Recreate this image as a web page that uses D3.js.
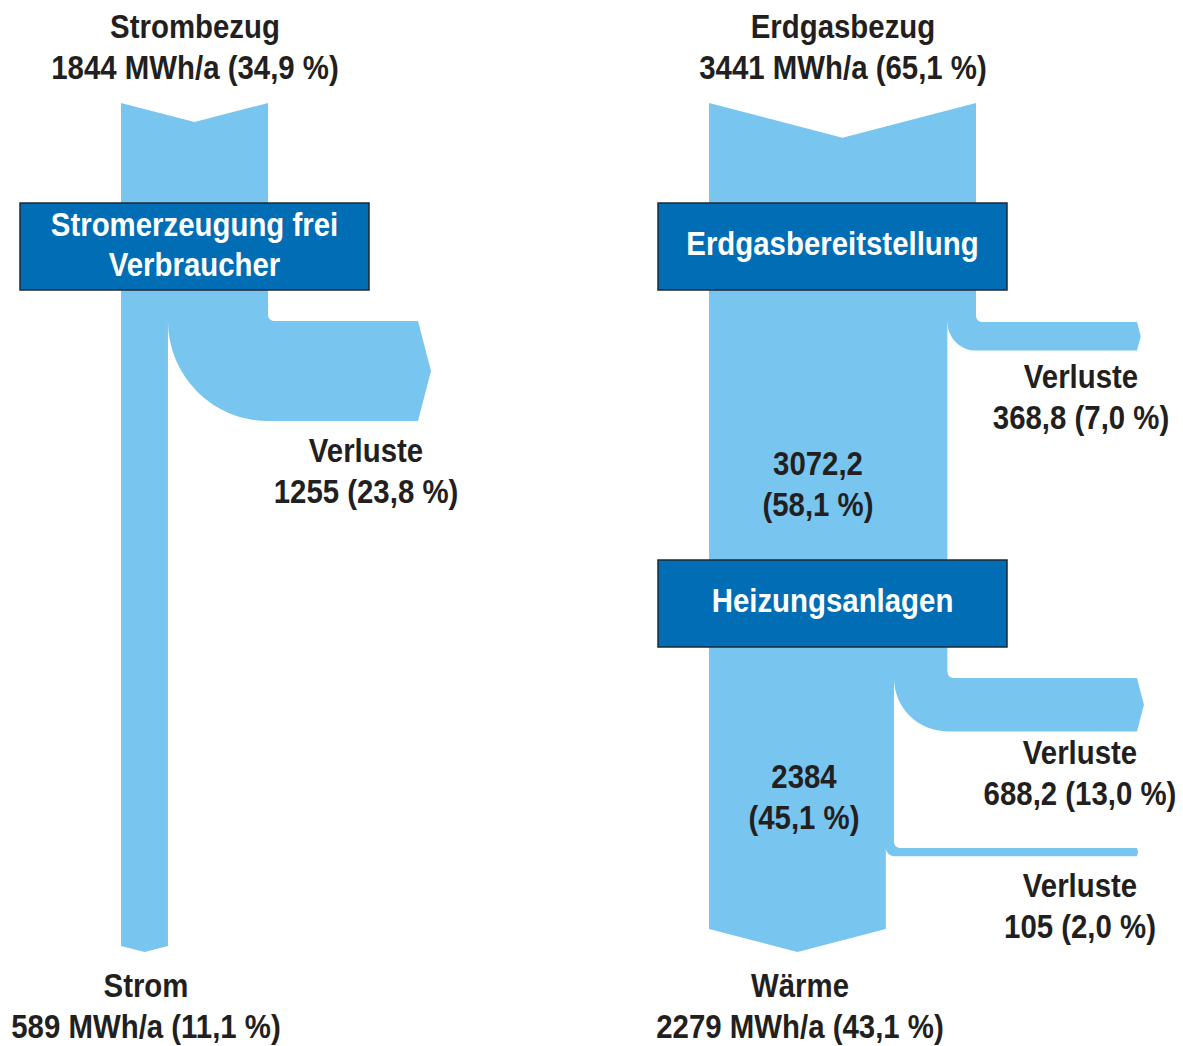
<!DOCTYPE html>
<html>
<head>
<meta charset="utf-8">
<script src="https://cdn.jsdelivr.net/npm/d3@7"></script>
<style>
  body { margin: 0; background: #fff; }
  text {
    font-family: "Liberation Sans", Arial, sans-serif;
    font-weight: bold;
    font-size: 34px;
    fill: #231f20;
    text-anchor: middle;
  }
  .node text { fill: #fff; }
</style>
</head>
<body>
<svg width="1183" height="1046"></svg>
<script>
// values (MWh/a and share of total input)
const inputLabels = ['Strombezug', 'Erdgasbezug'];
const inputValues = [1844, 3441];
const inputShares = [34.9, 65.1];

const outputLabels = ['Strom', 'Wärme'];
const outputValues = [589, 2279];
const outputShares = [11.1, 43.1];

const nodeNames = [['Stromerzeugung frei', 'Verbraucher'], ['Erdgasbereitstellung'], ['Heizungsanlagen']];

const stromLossValues = [1255];
const stromLossShares = [23.8];

const gasStepValues = [3072.2, 2384];
const gasStepShares = [58.1, 45.1];
const gasLossValues = [368.8, 688.2, 105];
const gasLossShares = [7.0, 13.0, 2.0];

const svg = d3.select('svg');

const de = d3.formatLocale({ decimal: ',', thousands: '.', grouping: [3], currency: ['', ' €'] });
const fmtVal = de.format('~f');
const fmtPct = de.format('.1f');

const band = '#78c5f0';
const topY = 103;
const endY = 952;
const chev = 0.13;   // depth of notch / arrow relative to band width
const lineH = 41;
const narrow = 0.865; // condensed look of the original typeface

// multi-line, horizontally condensed label
function addLines(parent, x, y, lines, dy = lineH) {
  const t = parent.append('text')
    .attr('transform', `translate(${x},${y}) scale(${narrow},1)`);
  lines.forEach((line, j) => {
    t.append('tspan').attr('x', 0).attr('y', j * dy).text(line);
  });
  return t;
}

// layout of the two flows
const systems = [
  {
    i: 0, x0: 121, bandW: 147,
    trunk: [inputValues[0], outputValues[0]],
    steps: [], stepShares: [], stepPos: [],
    losses: stromLossValues, lossShares: stromLossShares,
    lossY: [321], arrowX: 418,
    lossLabel: [[366, 462]],
    nodes: [{ name: nodeNames[0], x: 20, y: 203 }],
    topX: 195, outX: 146
  },
  {
    i: 1, x0: 709, bandW: 267,
    trunk: [inputValues[1], ...gasStepValues, outputValues[1]],
    steps: gasStepValues, stepShares: gasStepShares, stepPos: [[818, 475], [804, 788]],
    losses: gasLossValues, lossShares: gasLossShares,
    lossY: [322, 678, 848], arrowX: 1137,
    lossLabel: [[1081, 388], [1080, 764], [1080, 897]],
    nodes: [{ name: nodeNames[1], x: 658, y: 203 }, { name: nodeNames[2], x: 658, y: 560 }],
    topX: 843, outX: 800
  }
];

const flows = svg.append('g').attr('class', 'flows');
const labels = svg.append('g').attr('class', 'labels');
const boxes = svg.append('g').attr('class', 'node');

systems.forEach(s => {
  const w = d3.scaleLinear().domain([0, inputValues[s.i]]).range([0, s.bandW]);
  const n = s.trunk.length;

  // trunk segments between the branch points
  s.trunk.forEach((v, k) => {
    const bw = w(v);
    const x = s.x0;
    const y0 = k === 0 ? topY : s.lossY[k - 1] - 1;
    const y1 = k === n - 1 ? endY : s.lossY[k];
    const p = d3.path();
    if (k === 0) {
      p.moveTo(x, y0);
      p.lineTo(x + bw / 2, y0 + chev * bw);
      p.lineTo(x + bw, y0);
    } else {
      p.moveTo(x, y0);
      p.lineTo(x + bw, y0);
    }
    if (k === n - 1) {
      p.lineTo(x + bw, y1 - chev * bw);
      p.lineTo(x + bw / 2, y1);
      p.lineTo(x, y1 - chev * bw);
    } else {
      p.lineTo(x + bw, y1);
      p.lineTo(x, y1);
    }
    p.closePath();
    flows.append('path').attr('d', p.toString()).attr('fill', band);
  });

  // loss branches bending to the right
  s.losses.forEach((v, k) => {
    const lw = w(v);
    const xl = s.x0 + w(s.trunk[k + 1]);
    const xr = xl + lw;
    const yT = s.lossY[k];
    const r = 6;
    const xe = s.arrowX;
    const p = d3.path();
    p.moveTo(xl, yT - r);
    p.lineTo(xr, yT - r);
    p.arcTo(xr, yT, xr + r, yT, r);
    p.lineTo(xe, yT);
    p.lineTo(xe + chev * lw, yT + lw / 2);
    p.lineTo(xe, yT + lw);
    p.lineTo(xr, yT + lw);
    p.arcTo(xl, yT + lw, xl, yT, lw);
    p.closePath();
    flows.append('path').attr('d', p.toString()).attr('fill', band);

    const [lx, ly] = s.lossLabel[k];
    addLines(labels, lx, ly, ['Verluste', `${fmtVal(v)} (${fmtPct(s.lossShares[k])} %)`]);
  });

  // intermediate values inside the band
  s.steps.forEach((v, k) => {
    const [sx, sy] = s.stepPos[k];
    addLines(labels, sx, sy, [fmtVal(v), `(${fmtPct(s.stepShares[k])} %)`]);
  });

  // input and output labels
  addLines(labels, s.topX, 38,
    [inputLabels[s.i], `${fmtVal(inputValues[s.i])} MWh/a (${fmtPct(inputShares[s.i])} %)`]);
  addLines(labels, s.outX, 997,
    [outputLabels[s.i], `${fmtVal(outputValues[s.i])} MWh/a (${fmtPct(outputShares[s.i])} %)`]);

  // process boxes
  s.nodes.forEach(nd => {
    const g = boxes.append('g').attr('transform', `translate(${nd.x},${nd.y})`);
    g.append('rect')
      .attr('width', 349).attr('height', 87)
      .attr('fill', '#006db4')
      .attr('stroke', '#1d2a38')
      .attr('stroke-width', 1.5);
    const first = nd.name.length === 1 ? 52 : 33;
    addLines(g, 174.5, first, nd.name, 40);
  });
});
</script>
</body>
</html>
